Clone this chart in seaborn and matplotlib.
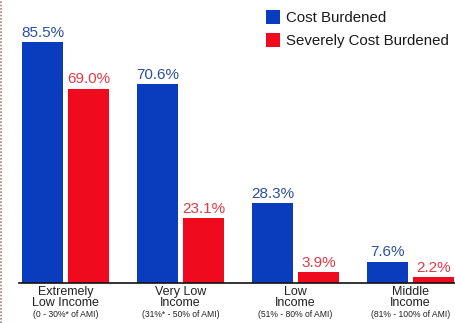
import matplotlib
matplotlib.use("Agg")
import matplotlib.pyplot as plt
import seaborn as sns
import pandas as pd
from matplotlib.lines import Line2D
from matplotlib.patches import Patch

categories = ["Extremely\nLow Income", "Very Low\nIncome", "Low\nIncome", "Middle\nIncome"]
subtitles = ["(0 - 30%* of AMI)", "(31%* - 50% of AMI)", "(51% - 80% of AMI)", "(81% - 100% of AMI)"]
series = ["Cost Burdened", "Severely Cost Burdened"]
cost_burdened = [85.5, 70.6, 28.3, 7.6]
severely_burdened = [69.0, 23.1, 3.9, 2.2]

bar_colors = ["#0a3cbe", "#f00a1e"]
label_colors = ["#2c4f9e", "#e23a44"]

df = pd.DataFrame({
    "category": categories * 2,
    "series": [series[0]] * 4 + [series[1]] * 4,
    "value": cost_burdened + severely_burdened,
})

sns.set_theme(style="white")
fams = ["Liberation Sans", "DejaVu Sans"]
plt.rcParams["font.family"] = fams

fig = plt.figure(figsize=(4.56, 3.23), dpi=100)
ax = fig.add_axes([19 / 456, 1 - 283 / 323, 1 - 19 / 456, 283 / 323])

sns.barplot(data=df, x="category", y="value", hue="series", order=categories,
            hue_order=series, palette=bar_colors, width=0.8, gap=0.1,
            saturation=1, ax=ax, legend=False, edgecolor="none")

ax.set_xlim(-0.404, 3.396)
ax.set_ylim(0, 100.4)

for cont, col in zip(ax.containers, label_colors):
    ax.bar_label(cont, labels=[f"{v:.1f}%" for v in cont.datavalues],
                 color=col, fontsize=11, padding=1.5, family=fams)

for s in ["top", "right", "left"]:
    ax.spines[s].set_visible(False)
ax.spines["bottom"].set_color("#111111")
ax.spines["bottom"].set_linewidth(1.2)
ax.set_yticks([])
ax.set_xlabel("")
ax.set_ylabel("")
ax.tick_params(axis="x", length=0, pad=2)
ax.set_xticks(range(len(categories)))
ax.set_xticklabels(categories, fontsize=9, color="#222222", linespacing=0.95)

trans = ax.get_xaxis_transform()
for i, sub in enumerate(subtitles):
    ax.text(i, -0.095, sub, transform=trans, ha="center", va="top",
            fontsize=6.2, color="#222222")

handles = [Patch(facecolor=c, edgecolor="none") for c in bar_colors]
leg = fig.legend(handles, series, loc="upper left", bbox_to_anchor=(256 / 456, 1.0),
                 frameon=False, fontsize=10.8, handlelength=0.95, handleheight=1.1,
                 handletextpad=0.4, labelspacing=0.5, borderaxespad=0.25)
for t in leg.get_texts():
    t.set_color("#1a1a1a")

fig.add_artist(Line2D([1.5 / 456, 1.5 / 456], [0, 1], transform=fig.transFigure,
                      color="#b07a7a", linestyle=(0, (1, 1)), linewidth=1.2))

fig.savefig("out.png", dpi=100)
